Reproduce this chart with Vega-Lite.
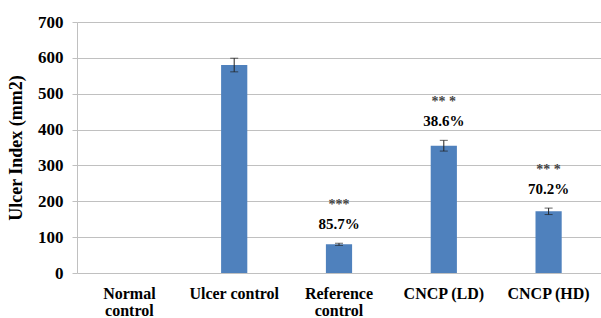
{
  "$schema": "https://vega.github.io/schema/vega-lite/v6.json",
  "width": 524,
  "height": 251,
  "autosize": "none",
  "padding": {"left": 77, "top": 22, "right": 0, "bottom": 45},
  "background": "white",
  "config": {"view": {"stroke": null}, "font": "Liberation Serif, serif"},
  "data": {
    "values": [
      {"group": "Normal control", "value": 0, "err": null, "pct": null, "stars": null},
      {"group": "Ulcer control", "value": 580, "err": 19, "pct": null, "stars": null},
      {"group": "Reference control", "value": 80, "err": 3, "pct": "85.7%", "stars": "***"},
      {"group": "CNCP (LD)", "value": 355, "err": 15, "pct": "38.6%", "stars": "** *"},
      {"group": "CNCP (HD)", "value": 172, "err": 9, "pct": "70.2%", "stars": "** *"}
    ]
  },
  "resolve": {"axis": {"y": "independent"}},
  "encoding": {
    "x": {
      "field": "group", "type": "nominal", "sort": null,
      "scale": {"paddingInner": 0.75, "paddingOuter": 0.375},
      "axis": {
        "title": null, "labelAngle": 0, "ticks": false, "domain": false,
        "labelFont": "Liberation Serif, serif", "labelFontWeight": "bold", "labelFontSize": 16,
        "labelColor": "#000", "labelPadding": 12, "labelLineHeight": 17, "labelBaseline": "top",
        "labelExpr": "datum.value == 'Normal control' || datum.value == 'Reference control' ? split(datum.value, ' ') : datum.value"
      }
    }
  },
  "layer": [
    {
      "mark": {"type": "bar", "color": "#4F81BD"},
      "encoding": {
        "y": {
          "field": "value", "type": "quantitative",
          "scale": {"domain": [0, 700]},
          "title": "Ulcer Index (mm2)",
          "axis": {
            "values": [0, 100, 200, 300, 400, 500, 600, 700],
            "titleFont": "Liberation Serif, serif", "titleFontWeight": "bold",
            "titleFontSize": 18, "titleColor": "#000", "titlePadding": 12,
            "labelFont": "Liberation Serif, serif", "labelFontWeight": "bold", "labelFontSize": 17,
            "labelColor": "#000", "labelPadding": 9,
            "gridColor": "#c0c0c0", "domainColor": "#c0c0c0", "tickColor": "#c0c0c0", "tickSize": 5
          }
        }
      }
    },
    {
      "transform": [{"filter": "datum.err != null"}],
      "mark": {"type": "errorbar", "ticks": {"size": 8, "color": "#222"}, "rule": {"color": "#222"}},
      "encoding": {
        "y": {"field": "value", "type": "quantitative", "axis": null},
        "yError": {"field": "err"}
      }
    },
    {
      "transform": [{"filter": "datum.stars != null"}, {"calculate": "datum.value + datum.err", "as": "hi"}],
      "mark": {"type": "text", "dy": -38, "fontSize": 14, "fontWeight": "bold", "color": "#444", "font": "Liberation Serif, serif", "baseline": "middle"},
      "encoding": {
        "y": {"field": "hi", "type": "quantitative", "axis": null},
        "text": {"field": "stars"}
      }
    },
    {
      "transform": [{"filter": "datum.pct != null"}, {"calculate": "datum.value + datum.err", "as": "hi"}],
      "mark": {"type": "text", "dy": -19, "fontSize": 15, "fontWeight": "bold", "color": "#000", "font": "Liberation Serif, serif", "baseline": "middle"},
      "encoding": {
        "y": {"field": "hi", "type": "quantitative", "axis": null},
        "text": {"field": "pct"}
      }
    }
  ]
}
